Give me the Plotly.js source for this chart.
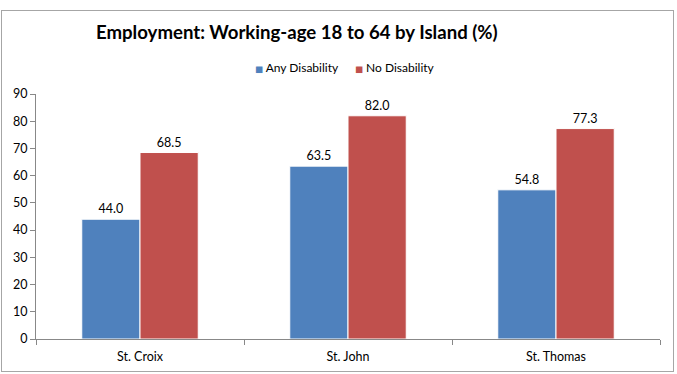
<!DOCTYPE html>
<html>
<head>
<meta charset="utf-8">
<script src="https://cdn.plot.ly/plotly-3.0.1.min.js"></script>
<style>
  html, body { margin: 0; padding: 0; background: #fff; }
  #wrap { position: relative; width: 677px; height: 374px; }
  #chart { width: 677px; height: 374px; }
  #frame { position: absolute; left: 1px; top: 10px; width: 671px; height: 360px;
           border: 1px solid #a6a6a6; pointer-events: none; }
</style>
</head>
<body>
<div id="wrap">
  <div id="chart"></div>
  <div id="frame"></div>
</div>
<script>
const islands = ["St. Croix", "St. John", "St. Thomas"];
const anyDisability = [44.0, 63.5, 54.8];
const noDisability = [68.5, 82.0, 77.3];
const seriesNames = ["Any Disability", "No Disability"];
const seriesColors = ["#4F81BD", "#C0504D"];
const yTicks = [0, 10, 20, 30, 40, 50, 60, 70, 80, 90];

const font = "Lato, 'Open Sans', sans-serif";

const traces = [anyDisability, noDisability].map((vals, i) => ({
  type: "bar", name: seriesNames[i], x: islands, y: vals,
  marker: { color: seriesColors[i], line: { color: "#ffffff", width: 1 } },
  text: vals.map(v => v.toFixed(1)), textposition: "outside",
  textfont: { family: font, size: 12.5, color: "#000" }, cliponaxis: false,
  hoverinfo: "skip", showlegend: false
}));

const legendX = [0.348, 0.508];
const annotations = seriesNames.map((n, i) => ({
  xref: "paper", yref: "paper", x: legendX[i], y: 1.110,
  xanchor: "left", yanchor: "middle", showarrow: false,
  text: '<span style="fill:' + seriesColors[i] + ';font-size:8.5px;font-family:DejaVu Sans">■</span> ' + n,
  font: { family: font, size: 12, color: "#000" }
}));

const layout = {
  width: 677, height: 374,
  margin: { l: 36, r: 17, t: 94, b: 35 },
  paper_bgcolor: "#fff", plot_bgcolor: "#fff",
  font: { family: font, size: 12, color: "#000" },
  title: {
    text: "<b>Employment: Working-age 18 to 64 by Island (%)</b>",
    font: { family: font, size: 18.6, color: "#000" },
    x: 0.418, xref: "paper", xanchor: "center", y: 0.912, yanchor: "middle"
  },
  showlegend: false,
  annotations: annotations,
  barmode: "group", bargap: 0.44, bargroupgap: 0,
  xaxis: {
    type: "category", showgrid: false, zeroline: false,
    showline: true, linecolor: "#888", linewidth: 1,
    ticks: "outside", tickson: "boundaries", ticklen: 5, tickcolor: "#888",
    ticklabelstandoff: 6,
    tickfont: { family: font, size: 12.5, color: "#000" }
  },
  yaxis: {
    range: [0, 90], tickvals: yTicks, showgrid: false, zeroline: false,
    showline: true, linecolor: "#888", linewidth: 1,
    ticks: "outside", ticklen: 5, tickcolor: "#888",
    tickfont: { family: font, size: 12.5, color: "#000" }
  }
};

Plotly.newPlot("chart", traces, layout, { staticPlot: true, displayModeBar: false });
</script>
</body>
</html>
